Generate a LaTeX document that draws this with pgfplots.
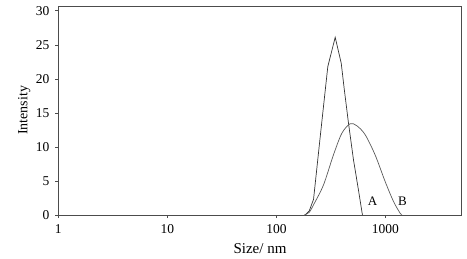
\documentclass[border=0pt]{standalone}
\usepackage{pgfplots}
\pgfplotsset{compat=1.18}
\usepackage{fontspec}
\setmainfont{Liberation Serif}
\begin{document}
\fontsize{14bp}{16bp}\selectfont
\begin{tikzpicture}
\useasboundingbox (0,0) rectangle (467bp,259bp);
\begin{axis}[
  at={(58.3bp,44bp)}, anchor=south west,
  scale only axis, width=403.4bp, height=209bp,
  xmode=log, xmin=1, xmax=5000,
  ymin=0, ymax=30.7,
  xtick={1,10,100,1000}, xticklabels={1,10,100,1000},
  ytick={0,5,10,15,20,25,30},
  xminorticks=false,
  tick align=outside, major tick length=3bp,
  xtick pos=bottom, ytick pos=left,
  axis line style={black!70, line width=0.7pt},
  tick style={black!70, line width=0.6pt},
  /pgf/number format/assume math mode=true,
  yticklabel style={font=\fontsize{13.5bp}{15bp}\selectfont, xshift=-1bp},
  xticklabel style={font=\fontsize{13.5bp}{15bp}\selectfont, yshift=-2bp},
  xlabel={Size/ nm}, ylabel={Intensity},
  xlabel style={font=\fontsize{15bp}{17bp}\selectfont, yshift=0bp},
  ylabel style={font=\fontsize{14bp}{16bp}\selectfont, yshift=-4bp},
  clip=false,
]
\addplot[black!80, line width=0.7pt] coordinates {
(183,0) (200,0.6) (219,2.3) (251,11.2) (296,21.8) (346,26.1) (393,22.3) (418,18.6) (458,13.5) (509,8.1) (565,3.7) (615,0)
};
\addplot[black!65, line width=0.7pt, smooth, tension=0.5] coordinates {
(180,0) (200,0.4) (219,1.5) (270,4.4) (333,8.8) (398,12.0) (474,13.4) (547,13.1) (651,11.8) (805,8.8) (994,4.9) (1184,2.0) (1364,0.25) (1420,0)
};
\node[font=\fontsize{13bp}{15bp}\selectfont] at (axis cs:760,1.96) {A};
\node[font=\fontsize{13bp}{15bp}\selectfont] at (axis cs:1432,1.96) {B};
\end{axis}
\end{tikzpicture}
\end{document}
